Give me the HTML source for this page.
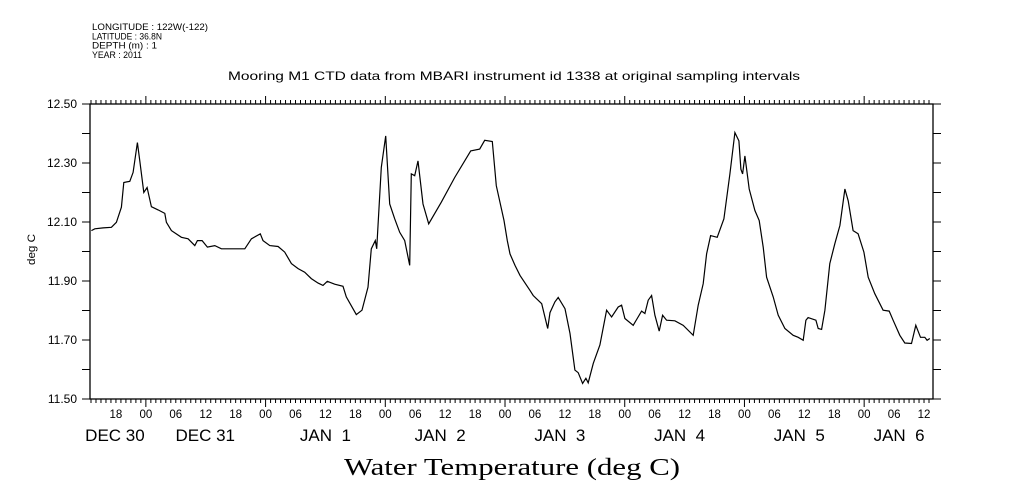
<!DOCTYPE html>
<html><head><meta charset="utf-8"><style>
html,body{margin:0;padding:0;background:#fff;}
svg{display:block;}
text{fill:#000;}
</style></head><body>
<svg id="chart" width="1009" height="504" viewBox="0 0 1009 504" xmlns="http://www.w3.org/2000/svg">
<rect x="0" y="0" width="1009" height="504" fill="#fff"/>
<g font-family="Liberation Sans, sans-serif" font-size="9.5">
<text x="92" y="30" textLength="116" lengthAdjust="spacingAndGlyphs">LONGITUDE : 122W(-122)</text>
<text x="92" y="39.5" textLength="70" lengthAdjust="spacingAndGlyphs">LATITUDE : 36.8N</text>
<text x="92" y="48.5" textLength="65" lengthAdjust="spacingAndGlyphs">DEPTH (m) : 1</text>
<text x="92" y="58" textLength="50" lengthAdjust="spacingAndGlyphs">YEAR : 2011</text>
</g>
<text x="228" y="80" font-family="Liberation Sans, sans-serif" font-size="12" textLength="572" lengthAdjust="spacingAndGlyphs">Mooring M1 CTD data from MBARI instrument id 1338 at original sampling intervals</text>
<text transform="translate(35,265) rotate(-90)" font-family="Liberation Sans, sans-serif" font-size="11" textLength="31" lengthAdjust="spacingAndGlyphs">deg C</text>
<text x="344" y="475" font-family="Liberation Serif, serif" font-size="24" textLength="336" lengthAdjust="spacingAndGlyphs">Water Temperature (deg C)</text>
<g id="axes"></g>
<g id="series"></g>
</svg>
<script>
const hours = [13.09,13.77,15.43,17.09,18.10,19.10,19.58,20.78,21.44,22.31,22.79,23.59,24.25,25.11,26.45,27.80,28.12,29.12,31.12,32.46,33.81,34.33,35.27,36.33,37.82,39.14,41.14,43.83,45.15,46.95,47.49,48.84,50.50,51.84,53.17,54.51,55.85,57.17,58.52,59.52,60.38,61.86,63.53,64.19,66.19,67.33,68.54,69.20,70.00,70.28,71.20,72.08,72.89,73.89,74.89,75.89,76.89,77.22,77.90,78.56,79.56,80.70,83.23,85.91,89.12,90.92,91.92,93.45,94.25,95.79,96.45,96.99,98.00,99.00,101.00,101.66,103.35,104.55,105.01,106.01,106.67,108.02,109.02,110.02,110.68,111.56,112.22,112.68,113.69,115.03,116.37,117.37,118.70,119.38,120.04,121.70,123.39,124.05,124.71,125.39,126.05,126.91,127.59,128.40,130.06,131.72,133.73,134.73,135.73,136.41,137.21,138.54,139.88,141.08,142.08,142.88,143.29,143.63,144.09,144.95,146.09,146.95,147.75,148.44,149.76,150.76,152.10,153.77,154.77,155.77,156.31,156.77,158.32,158.78,159.46,160.12,161.12,162.12,163.13,164.13,164.79,165.79,166.79,167.94,168.80,170.14,171.80,173.01,173.81,175.15,176.15,177.49,178.36,179.30,180.16,180.62,181.16];
const temps = [12.071,12.077,12.080,12.082,12.099,12.150,12.234,12.238,12.268,12.369,12.307,12.200,12.217,12.152,12.141,12.129,12.099,12.071,12.048,12.043,12.020,12.037,12.037,12.015,12.020,12.009,12.009,12.009,12.043,12.060,12.037,12.020,12.017,11.998,11.959,11.942,11.930,11.908,11.893,11.885,11.899,11.889,11.882,11.846,11.786,11.801,11.879,12.009,12.037,12.009,12.285,12.392,12.161,12.111,12.065,12.037,11.953,12.263,12.257,12.307,12.161,12.094,12.167,12.251,12.341,12.347,12.377,12.373,12.223,12.105,12.037,11.992,11.953,11.919,11.868,11.851,11.823,11.739,11.793,11.829,11.844,11.806,11.722,11.598,11.589,11.553,11.570,11.555,11.621,11.683,11.801,11.778,11.812,11.818,11.773,11.750,11.798,11.790,11.835,11.851,11.784,11.730,11.784,11.767,11.765,11.750,11.716,11.818,11.891,11.992,12.054,12.048,12.111,12.263,12.403,12.375,12.279,12.263,12.324,12.212,12.139,12.105,12.015,11.913,11.846,11.784,11.739,11.716,11.709,11.699,11.767,11.776,11.767,11.739,11.736,11.801,11.959,12.026,12.088,12.212,12.172,12.071,12.060,11.998,11.913,11.857,11.801,11.798,11.767,11.716,11.690,11.688,11.750,11.709,11.709,11.699,11.705];
const yTickLabels = ["12.50","12.30","12.10","11.90","11.70","11.50"];
const hourLabels = ["18","00","06","12","18","00","06","12","18","00","06","12","18","00","06","12","18","00","06","12","18","00","06","12","18","00","06","12","18"];
const dayLabels = ["DEC 30","DEC 31","JAN  1","JAN  2","JAN  3","JAN  4","JAN  5","JAN  6"];
const dayLabelHours = [17.8,35.9,60,83,107,131,155,175];

const L=90,R=933,T=104,B=399;
const H0=12.8,H1=181.8;
const V0=11.5,V1=12.5;
function xs(h){return L+(h-H0)/(H1-H0)*(R-L);}
function ys(v){return B-(v-V0)/(V1-V0)*(B-T);}
const NS='http://www.w3.org/2000/svg';
const axes=document.getElementById('axes');
const series=document.getElementById('series');
function mk(tag,attrs,parent){const e=document.createElementNS(NS,tag);for(const k in attrs)e.setAttribute(k,attrs[k]);parent.appendChild(e);return e;}

const frame=mk('rect',{x:L,y:T,width:R-L,height:B-T,fill:'none',stroke:'#000','stroke-width':1.3},axes);



let tp='';
for(let i=0;i<=10;i++){const v=V0+i*0.1;const y=ys(v);tp+=`M${L-8},${y}H${L}M${R},${y}H${R+8}`;}
for(let h=Math.ceil(H0);h<=H1;h++){const x=xs(h);const len=(h%24===0)?8:4;tp+=`M${x},${B}V${B+len}M${x},${T}V${T-len}`;}
const ticks=mk('path',{d:tp,stroke:'#000','stroke-width':1,fill:'none'},axes);



yTickLabels.forEach((s,i)=>{
  const v=parseFloat(s);
  const t=mk('text',{x:77,y:ys(v)+4,'text-anchor':'end','font-family':'Liberation Sans, sans-serif','font-size':12},axes);
  t.textContent=s;
  
  
});
hourLabels.forEach((s,i)=>{
  const h=18+i*6;
  if(h>H1) return;
  const t=mk('text',{x:xs(h),y:418,'text-anchor':'middle','font-family':'Liberation Sans, sans-serif','font-size':11.5},axes);
  t.textContent=s;
  
  
});
dayLabels.forEach((s,i)=>{
  const t=mk('text',{x:xs(dayLabelHours[i]),y:441,'text-anchor':'middle','font-family':'Liberation Sans, sans-serif','font-size':17},axes);
  t.setAttribute('style','white-space:pre');
  t.textContent=s;
  
  
});

let d='';
hours.forEach((h,i)=>{d+=(i?'L':'M')+xs(h).toFixed(1)+','+ys(temps[i]).toFixed(1);});
const line=mk('path',{d:d,fill:'none',stroke:'#000','stroke-width':1.2,'stroke-linejoin':'miter'},series);


</script>
</body></html>
